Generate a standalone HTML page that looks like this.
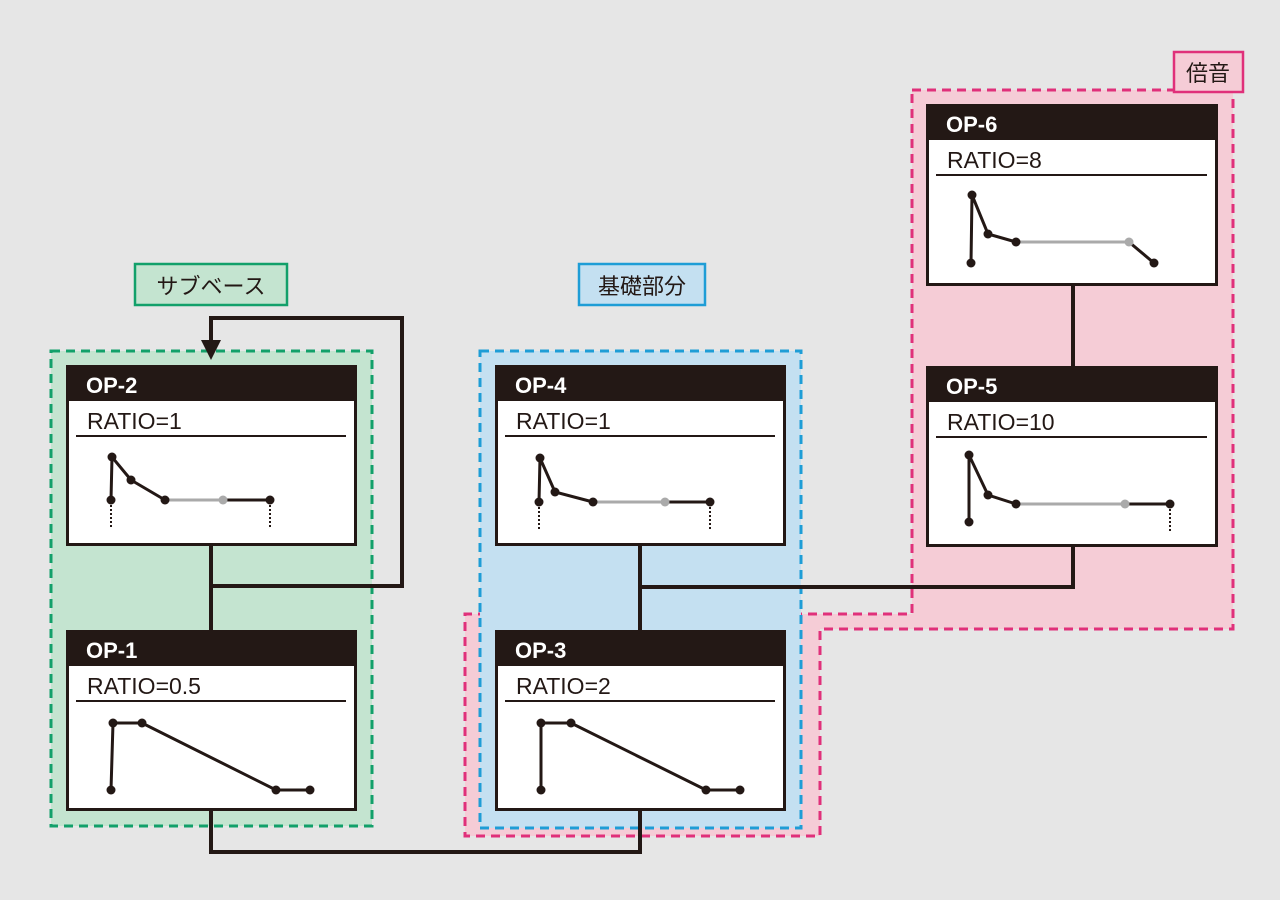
<!DOCTYPE html>
<html><head><meta charset="utf-8"><style>
body{margin:0;background:#e6e6e6;}
svg{display:block;font-family:"Liberation Sans","Noto Sans CJK JP",sans-serif;}
</style></head><body>
<svg width="1280" height="900" viewBox="0 0 1280 900">
<rect width="1280" height="900" fill="#e6e6e6"/>
<polygon points="912,90 1233,90 1233,629 820,629 820,836 465,836 465,614 912,614" fill="#f5ccd6" stroke="#e0307a" stroke-width="3" stroke-dasharray="9,6"/>
<rect x="480" y="351" width="321" height="477" fill="#c4e0f1" stroke="#1e9dd6" stroke-width="3" stroke-dasharray="9,6"/>
<rect x="51" y="351" width="321" height="475" fill="#c4e4d0" stroke="#12a06a" stroke-width="3" stroke-dasharray="9,6"/>
<rect x="135" y="264" width="152" height="41" fill="#c4e4d0" stroke="#12a06a" stroke-width="2.5"/>
<text x="211" y="294" font-size="22" text-anchor="middle" fill="#231815">サブベース</text>
<rect x="579" y="264" width="126" height="41" fill="#c4e0f1" stroke="#1e9dd6" stroke-width="2.5"/>
<text x="642" y="294" font-size="22" text-anchor="middle" fill="#231815">基礎部分</text>
<rect x="1174" y="52" width="69" height="40" fill="#f5ccd6" stroke="#e0307a" stroke-width="2.5"/>
<text x="1208" y="81" font-size="22" text-anchor="middle" fill="#231815">倍音</text>
<g stroke="#231815" stroke-width="4" fill="none">
<polyline points="211,546 211,586 402,586 402,318 211,318 211,350"/>
<line x1="211" y1="546" x2="211" y2="630"/>
<polyline points="211,811 211,852 640,852 640,811"/>
<line x1="640" y1="546" x2="640" y2="630"/>
<polyline points="1073,547 1073,587 640,587"/>
<line x1="1073" y1="286" x2="1073" y2="366"/>
</g>
<polygon points="201,340 221,340 211,360" fill="#231815"/>
<g>
<g transform="translate(66,365)"><rect x="1.5" y="1.5" width="288" height="178" fill="#fff" stroke="#231815" stroke-width="3"/><rect width="291" height="36" fill="#231815"/><text x="20" y="28" font-size="22" font-weight="bold" fill="#fff">OP-2</text><text x="21" y="64" font-size="23" fill="#231815">RATIO=1</text><line x1="10" y1="71" x2="280" y2="71" stroke="#231815" stroke-width="2"/></g>
<g transform="translate(66,630)"><rect x="1.5" y="1.5" width="288" height="178" fill="#fff" stroke="#231815" stroke-width="3"/><rect width="291" height="36" fill="#231815"/><text x="20" y="28" font-size="22" font-weight="bold" fill="#fff">OP-1</text><text x="21" y="64" font-size="23" fill="#231815">RATIO=0.5</text><line x1="10" y1="71" x2="280" y2="71" stroke="#231815" stroke-width="2"/></g>
<g transform="translate(495,365)"><rect x="1.5" y="1.5" width="288" height="178" fill="#fff" stroke="#231815" stroke-width="3"/><rect width="291" height="36" fill="#231815"/><text x="20" y="28" font-size="22" font-weight="bold" fill="#fff">OP-4</text><text x="21" y="64" font-size="23" fill="#231815">RATIO=1</text><line x1="10" y1="71" x2="280" y2="71" stroke="#231815" stroke-width="2"/></g>
<g transform="translate(495,630)"><rect x="1.5" y="1.5" width="288" height="178" fill="#fff" stroke="#231815" stroke-width="3"/><rect width="291" height="36" fill="#231815"/><text x="20" y="28" font-size="22" font-weight="bold" fill="#fff">OP-3</text><text x="21" y="64" font-size="23" fill="#231815">RATIO=2</text><line x1="10" y1="71" x2="280" y2="71" stroke="#231815" stroke-width="2"/></g>
<g transform="translate(926,104)"><rect x="1.5" y="1.5" width="289" height="179" fill="#fff" stroke="#231815" stroke-width="3"/><rect width="292" height="36" fill="#231815"/><text x="20" y="28" font-size="22" font-weight="bold" fill="#fff">OP-6</text><text x="21" y="64" font-size="23" fill="#231815">RATIO=8</text><line x1="10" y1="71" x2="281" y2="71" stroke="#231815" stroke-width="2"/></g>
<g transform="translate(926,366)"><rect x="1.5" y="1.5" width="289" height="178" fill="#fff" stroke="#231815" stroke-width="3"/><rect width="292" height="36" fill="#231815"/><text x="20" y="28" font-size="22" font-weight="bold" fill="#fff">OP-5</text><text x="21" y="64" font-size="23" fill="#231815">RATIO=10</text><line x1="10" y1="71" x2="281" y2="71" stroke="#231815" stroke-width="2"/></g>
</g>
<g stroke-width="3" fill="none">
<polyline stroke="#231815" points="111,500 112,457 131,480 165,500"/><line stroke="#aaa" x1="165" y1="500" x2="223" y2="500"/><line stroke="#231815" x1="223" y1="500" x2="270" y2="500"/>
<polyline stroke="#231815" points="539,502 540,458 555,492 593,502"/><line stroke="#aaa" x1="593" y1="502" x2="665" y2="502"/><line stroke="#231815" x1="665" y1="502" x2="710" y2="502"/>
<polyline stroke="#231815" points="971,263 972,195 988,234 1016,242"/><line stroke="#aaa" x1="1016" y1="242" x2="1129" y2="242"/><line stroke="#231815" x1="1129" y1="242" x2="1154" y2="263"/>
<polyline stroke="#231815" points="969,522 969,455 988,495 1016,504"/><line stroke="#aaa" x1="1016" y1="504" x2="1125" y2="504"/><line stroke="#231815" x1="1125" y1="504" x2="1170" y2="504"/>
<polyline stroke="#231815" points="111,790 113,723 142,723 276,790 310,790"/>
<polyline stroke="#231815" points="541,790 541,723 571,723 706,790 740,790"/>
<g stroke="#231815" stroke-width="2" stroke-dasharray="2,2"><line x1="111" y1="505" x2="111" y2="528"/><line x1="270" y1="505" x2="270" y2="528"/><line x1="539" y1="507" x2="539" y2="530"/><line x1="710" y1="507" x2="710" y2="530"/><line x1="1170" y1="509" x2="1170" y2="532"/></g>
</g>
<g fill="#231815">
<circle cx="112" cy="457" r="4.5"/><circle cx="131" cy="480" r="4.5"/><circle cx="165" cy="500" r="4.5"/><circle cx="270" cy="500" r="4.5"/><circle cx="111" cy="500" r="4.5"/>
<circle cx="540" cy="458" r="4.5"/><circle cx="555" cy="492" r="4.5"/><circle cx="593" cy="502" r="4.5"/><circle cx="710" cy="502" r="4.5"/><circle cx="539" cy="502" r="4.5"/>
<circle cx="972" cy="195" r="4.5"/><circle cx="988" cy="234" r="4.5"/><circle cx="1016" cy="242" r="4.5"/><circle cx="1154" cy="263" r="4.5"/><circle cx="971" cy="263" r="4.5"/>
<circle cx="969" cy="455" r="4.5"/><circle cx="988" cy="495" r="4.5"/><circle cx="1016" cy="504" r="4.5"/><circle cx="1170" cy="504" r="4.5"/><circle cx="969" cy="522" r="4.5"/>
<circle cx="111" cy="790" r="4.5"/><circle cx="113" cy="723" r="4.5"/><circle cx="142" cy="723" r="4.5"/><circle cx="276" cy="790" r="4.5"/><circle cx="310" cy="790" r="4.5"/>
<circle cx="541" cy="790" r="4.5"/><circle cx="541" cy="723" r="4.5"/><circle cx="571" cy="723" r="4.5"/><circle cx="706" cy="790" r="4.5"/><circle cx="740" cy="790" r="4.5"/>
</g>
<g fill="#aaa"><circle cx="223" cy="500" r="4.5"/><circle cx="665" cy="502" r="4.5"/><circle cx="1129" cy="242" r="4.5"/><circle cx="1125" cy="504" r="4.5"/></g>
</svg>
</body></html>
